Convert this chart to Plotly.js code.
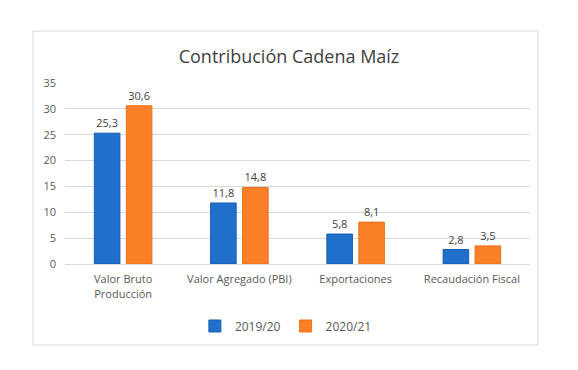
<!DOCTYPE html>
<html>
<head>
<meta charset="utf-8">
<script src="https://cdn.plot.ly/plotly-3.0.1.min.js"></script>
<style>html,body{margin:0;padding:0;background:#fff;}#chart{width:578px;height:370px;}</style>
</head>
<body>
<div id="chart"></div>
<script>
const categories = ["Valor Bruto<br>Producción", "Valor Agregado (PBI)", "Exportaciones", "Recaudación Fiscal"];
const series1Name = "2019/20";
const series1Values = [25.3, 11.8, 5.8, 2.8];
const series2Name = "2020/21";
const series2Values = [30.6, 14.8, 8.1, 3.5];
const yTickValues = [0, 5, 10, 15, 20, 25, 30, 35];

const fmt = v => v.toFixed(1).replace('.', ',');
const font = "'Open Sans', 'Noto Sans', sans-serif";

const traces = [
  {type: 'bar', name: series1Name, x: categories, y: series1Values,
   text: series1Values.map(fmt), textposition: 'outside', cliponaxis: false,
   textfont: {size: 11, color: '#404040', family: font},
   marker: {color: '#1F6FCB', line: {color: '#1A5FAE', width: 1}}},
  {type: 'bar', name: series2Name, x: categories, y: series2Values,
   text: series2Values.map(fmt), textposition: 'outside', cliponaxis: false,
   textfont: {size: 11, color: '#404040', family: font},
   marker: {color: '#FB7F26', line: {color: '#E8731E', width: 1}}}
];

const layout = {
  width: 578, height: 370,
  margin: {l: 65, r: 48, t: 83, b: 106},
  paper_bgcolor: '#ffffff', plot_bgcolor: '#ffffff',
  font: {family: font, color: '#595959', size: 11},
  title: {text: 'Contribución Cadena Maíz', font: {size: 18, color: '#404040', family: font},
          x: 0.5, xanchor: 'center', y: 1 - 57/370, yanchor: 'middle'},
  barmode: 'group', bargap: 0.45, bargroupgap: 0.2,
  xaxis: {type: 'category', showgrid: false, ticks: '', showline: true, linecolor: '#d9d9d9',
          ticklabelstandoff: 5, tickfont: {size: 11, color: '#595959'}},
  yaxis: {range: [0, 35], tickvals: yTickValues, showgrid: true, gridcolor: '#d9d9d9',
          zeroline: false, ticks: '', showline: false, ticklabelstandoff: 8,
          tickfont: {size: 11, color: '#595959'}},
  showlegend: true,
  legend: {orientation: 'h', x: 0.475, xanchor: 'center', y: -0.3425, yanchor: 'middle',
           font: {size: 12, color: '#595959'}, itemwidth: 30, tracegroupgap: 0},
  shapes: [{type: 'rect', xref: 'paper', yref: 'paper',
            x0: -0.0688, x1: 1.017, y0: -0.4475, y1: 1.287,
            line: {color: '#d9d9d9', width: 1}, fillcolor: 'rgba(0,0,0,0)', layer: 'below'}]
};

Plotly.newPlot('chart', traces, layout, {displayModeBar: false, staticPlot: true});
</script>
</body>
</html>
